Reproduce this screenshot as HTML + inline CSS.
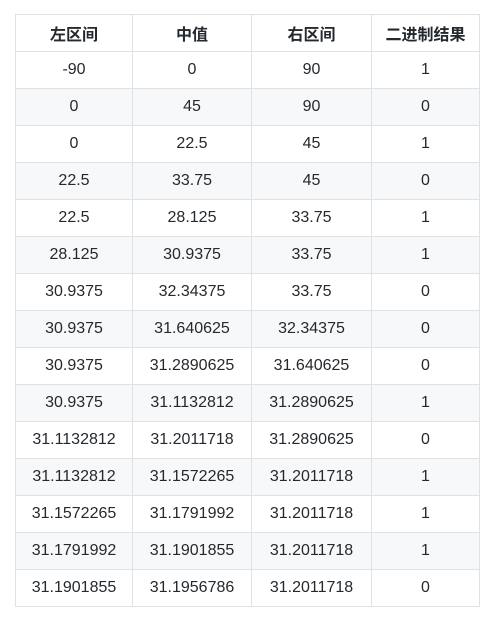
<!DOCTYPE html>
<html><head><meta charset="utf-8"><style>
html,body{margin:0;padding:0;background:#fff;width:494px;height:620px;overflow:hidden}
table{position:absolute;left:15px;top:14px;border-collapse:collapse;table-layout:fixed;font-family:"Liberation Sans","Noto Sans CJK SC",sans-serif;font-size:16px;color:#24292e}
td,th{border:1px solid #dfe2e5;height:36px;padding:0;text-align:center;box-sizing:border-box}
tr{height:37px}
th{font-weight:bold;font-size:16px}
tbody tr:nth-child(2n){background:#f6f8fa}
</style></head><body>
<table>
<colgroup><col style="width:117px"><col style="width:119px"><col style="width:120px"><col style="width:108px"></colgroup>
<thead><tr><th>左区间</th><th>中值</th><th>右区间</th><th>二进制结果</th></tr></thead>
<tbody>
<tr><td>-90</td><td>0</td><td>90</td><td>1</td></tr>
<tr><td>0</td><td>45</td><td>90</td><td>0</td></tr>
<tr><td>0</td><td>22.5</td><td>45</td><td>1</td></tr>
<tr><td>22.5</td><td>33.75</td><td>45</td><td>0</td></tr>
<tr><td>22.5</td><td>28.125</td><td>33.75</td><td>1</td></tr>
<tr><td>28.125</td><td>30.9375</td><td>33.75</td><td>1</td></tr>
<tr><td>30.9375</td><td>32.34375</td><td>33.75</td><td>0</td></tr>
<tr><td>30.9375</td><td>31.640625</td><td>32.34375</td><td>0</td></tr>
<tr><td>30.9375</td><td>31.2890625</td><td>31.640625</td><td>0</td></tr>
<tr><td>30.9375</td><td>31.1132812</td><td>31.2890625</td><td>1</td></tr>
<tr><td>31.1132812</td><td>31.2011718</td><td>31.2890625</td><td>0</td></tr>
<tr><td>31.1132812</td><td>31.1572265</td><td>31.2011718</td><td>1</td></tr>
<tr><td>31.1572265</td><td>31.1791992</td><td>31.2011718</td><td>1</td></tr>
<tr><td>31.1791992</td><td>31.1901855</td><td>31.2011718</td><td>1</td></tr>
<tr><td>31.1901855</td><td>31.1956786</td><td>31.2011718</td><td>0</td></tr>
</tbody></table>
</body></html>
